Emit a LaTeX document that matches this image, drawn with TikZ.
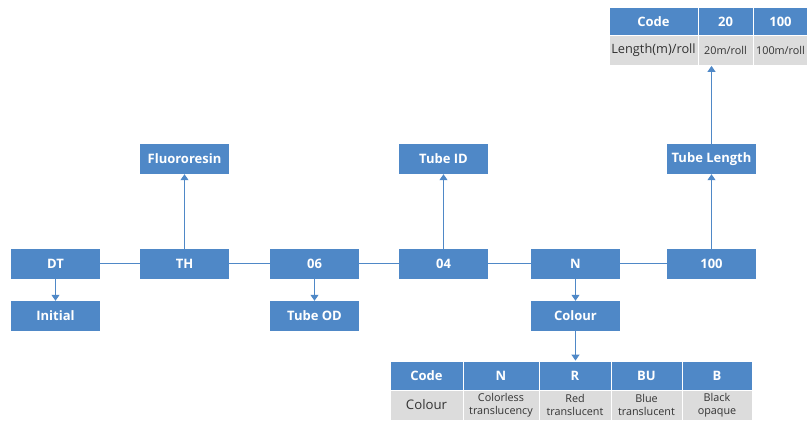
\documentclass[tikz,border=0pt]{standalone}
\usepackage{fontspec}
\setmainfont{Open Sans}
\usetikzlibrary{arrows.meta,positioning}
\definecolor{codeblue}{HTML}{4F88C7}
\definecolor{rowgray}{HTML}{DCDCDC}
\tikzset{
    codebox/.style={fill=codeblue, text=white, align=center, font=\fontsize{13}{15}\selectfont\bfseries, minimum width=89pt, minimum height=30pt, inner sep=0pt},
    headcell/.style={fill=codeblue, draw=white, line width=0.8pt, text=white, align=center, font=\fontsize{13}{15}\selectfont\bfseries, minimum height=29pt, inner sep=0pt},
    bodycell/.style={fill=rowgray, draw=white, line width=0.8pt, text=black!80, align=center, font=\fontsize{10.8}{13}\selectfont, minimum height=30pt, inner sep=0pt},
    codelink/.style={draw=codeblue, line width=1pt},
    codearrow/.style={codelink, -{Triangle[length=6pt, width=8pt]}}
}
\begin{document}
\begin{tikzpicture}[x=1pt, y=-1pt]
    \useasboundingbox (0,0) rectangle (807,422);
    % main code row
    \node[codebox] (dt) at (55.5,264) {DT};
    \node[codebox] (th) at (184.5,264) {TH};
    \node[codebox] (od) at (314.5,264) {06};
    \node[codebox] (id) at (443.5,264) {04};
    \node[codebox] (col) at (575.5,264) {N};
    \node[codebox] (len) at (711.5,264) {100};
    % meanings
    \node[codebox] (initial) at (55.5,316) {Initial};
    \node[codebox] (fluoro) at (184.5,159) {Fluororesin};
    \node[codebox] (tubeod) at (314.5,316) {Tube OD};
    \node[codebox] (tubeid) at (443.5,159) {Tube ID};
    \node[codebox] (colour) at (575.5,316) {Colour};
    \node[codebox] (tubelen) at (711.5,159) {Tube Length};
    % length table
    \node[headcell, minimum width=89pt] (lhcode) at (653.5,21.5) {Code};
    \node[headcell, minimum width=55pt] (lh20) at (725.5,21.5) {20};
    \node[headcell, minimum width=55pt] (lh100) at (780.5,21.5) {100};
    \node[bodycell, minimum width=89pt, font=\fontsize{12.8}{15}\selectfont] (lbcode) at (653.5,50.5) {Length(m)/roll};
    \node[bodycell, minimum width=55pt] (lb20) at (725.5,50.5) {20m/roll};
    \node[bodycell, minimum width=55pt] (lb100) at (780.5,50.5) {100m/roll};
    % colour table
    \node[headcell, minimum width=73pt] (chcode) at (426.5,375.5) {Code};
    \node[headcell, minimum width=76pt] (chn) at (501,375.5) {N};
    \node[headcell, minimum width=72pt] (chr) at (575,375.5) {R};
    \node[headcell, minimum width=71pt] (chbu) at (646.5,375.5) {BU};
    \node[headcell, minimum width=70pt] (chb) at (717,375.5) {B};
    \node[bodycell, minimum width=73pt, font=\fontsize{13.2}{15}\selectfont] (cbcode) at (426.5,405) {Colour};
    \node[bodycell, minimum width=76pt] (cbn) at (501,405) {Colorless\\translucency};
    \node[bodycell, minimum width=72pt] (cbr) at (575,405) {Red\\translucent};
    \node[bodycell, minimum width=71pt] (cbbu) at (646.5,405) {Blue\\translucent};
    \node[bodycell, minimum width=70pt] (cbb) at (717,405) {Black\\opaque};
    % connectors
    \draw[codelink] (dt) -- (th);
    \draw[codelink] (th) -- (od);
    \draw[codelink] (od) -- (id);
    \draw[codelink] (id) -- (col);
    \draw[codelink] (col) -- (len);
    \draw[codearrow] (dt) -- (initial);
    \draw[codearrow] (th) -- (fluoro);
    \draw[codearrow] (od) -- (tubeod);
    \draw[codearrow] (id) -- (tubeid);
    \draw[codearrow] (col) -- (colour);
    \draw[codearrow] (len) -- (tubelen);
    \draw[codearrow] (colour.south) -- (colour.south |- chr.north);
    \draw[codearrow] (tubelen.north) -- (tubelen.north |- lbcode.south);
\end{tikzpicture}
\end{document}
